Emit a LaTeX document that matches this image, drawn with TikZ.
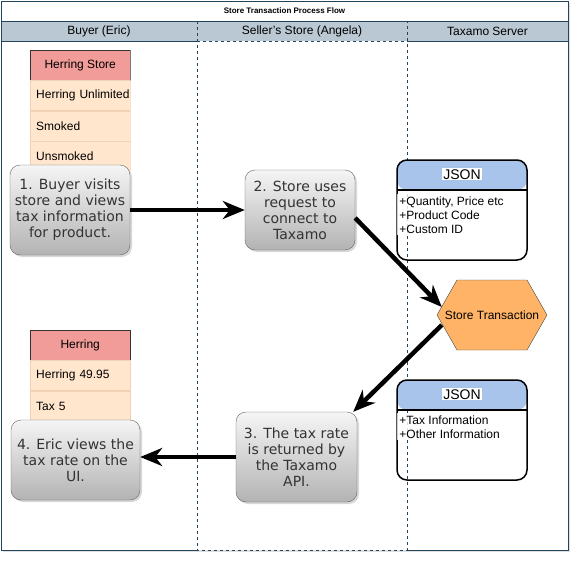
\documentclass[tikz,border=0pt]{standalone}
\usepackage{fontspec}
\setmainfont{Liberation Sans}
\newfontfamily\stepfont{DejaVu Sans}
\usepackage{tikz}
\usetikzlibrary{arrows.meta,shadows,positioning}
\definecolor{laneColor}{HTML}{BAC8D3}
\definecolor{laneLine}{HTML}{23445D}
\definecolor{headColor}{HTML}{F19C99}
\definecolor{rowColor}{HTML}{FFE6CC}
\definecolor{rowLine}{HTML}{F2D2B4}
\definecolor{jsonColor}{HTML}{A9C4EB}
\definecolor{hexColor}{HTML}{FFB366}
\definecolor{stepTop}{HTML}{F5F5F5}
\definecolor{stepBottom}{HTML}{B3B3B3}
\definecolor{stepLine}{HTML}{666666}
\definecolor{stepText}{HTML}{333333}

\tikzset{
	lanehead/.style={font=\fontsize{12}{14}\selectfont},
	tabhead/.style={draw=black!80, fill=headColor, minimum width=100pt, minimum height=30pt, inner sep=0pt, font=\fontsize{12}{14}\selectfont},
	tabrow/.style={draw=rowLine, fill=rowColor, minimum height=30pt, text width=88pt, inner xsep=6pt, inner ysep=0pt, align=left, font=\fontsize{12}{14}\selectfont},
	stepbox/.style={draw=stepLine, rounded corners=10pt, top color=stepTop, bottom color=stepBottom, text=stepText, align=center, inner xsep=2pt,
		font=\stepfont\fontsize{14}{16}\selectfont, drop shadow={shadow xshift=2pt, shadow yshift=-2pt, opacity=.3}},
	jsonbox/.style={draw=black, line width=1.5pt, rounded corners=10pt, minimum width=130pt, minimum height=100pt,
		path picture={
			\fill[jsonColor] (path picture bounding box.north west) rectangle ([yshift=-30pt]path picture bounding box.north east);
			\draw[line width=1.5pt] ([yshift=-30pt]path picture bounding box.north west) -- ([yshift=-30pt]path picture bounding box.north east);
		}},
	jsontitle/.style={fill=white, inner sep=1pt, font=\fontsize{14}{16}\selectfont},
	jsonlist/.style={anchor=north west, fill=white, fill opacity=.8, text opacity=1, align=left, inner sep=2pt, font=\fontsize{12}{14}\selectfont},
	hexbox/.style={minimum width=110pt, minimum height=70pt, inner sep=0pt, font=\fontsize{12}{14}\selectfont},
	flow/.style={line width=4.5pt, -{Stealth[length=22pt, width=18pt, inset=7pt]}},
}

\begin{document}
\begin{tikzpicture}[x=1pt, y=-1pt]
	\useasboundingbox (0,0) rectangle (579,562);

	% pool and lanes
	\fill[white, drop shadow={shadow xshift=2pt, shadow yshift=-2pt, opacity=.25}] (1,1) rectangle (568,550);
	\fill[laneColor] (1,21) rectangle (568,41);
	\draw[laneLine] (1,1) rectangle (568,21);
	\draw[laneLine] (197,550) -- (1,550) -- (1,21) -- (197,21);
	\draw[laneLine] (407,21) -- (568,21) -- (568,550) -- (407,550);
	\draw[laneLine] (1,41) -- (197,41) (407,41) -- (568,41);
	\draw[laneLine, dash pattern=on 3pt off 3pt] (197,21) rectangle (407,550);
	\draw[laneLine, dash pattern=on 3pt off 3pt] (197,41) -- (407,41);

	\node[font=\bfseries\fontsize{8}{10}\selectfont] (title) at (284.5,11) {Store Transaction Process Flow};
	\node[lanehead] (buyer) at (99,31) {Buyer (Eric)};
	\node[lanehead] (seller) at (302,31) {Seller's Store (Angela)};
	\node[lanehead] (server) at (487.5,31) {Taxamo Server};

	% tables
	\begin{scope}
		\clip (29.5,49.5) rectangle (130.5,170.5);
		\node[tabhead, anchor=north west] (store) at (30,50) {Herring Store};
		\node[tabrow, below=0pt of store] (storeA) {\mbox{Herring Unlimited}};
		\node[tabrow, below=0pt of storeA] (storeB) {Smoked};
		\node[tabrow, below=0pt of storeB] (storeC) {Unsmoked};
	\end{scope}
	\node[tabhead, anchor=north west] (item) at (30,330) {Herring};
	\node[tabrow, below=0pt of item] (itemA) {Herring 49.95};
	\node[tabrow, below=0pt of itemA] (itemB) {Tax 5};

	% steps
	\node[stepbox, minimum width=120pt, minimum height=90pt] (visit) at (70,210) {1. Buyer visits\\store and views\\tax information\\for product.};
	\node[stepbox, minimum width=110pt, minimum height=80pt] (request) at (300,210) {2. Store uses\\request to\\connect to\\Taxamo};
	\node[stepbox, minimum width=121pt, minimum height=90pt] (answer) at (296.5,457) {3. The tax rate\\is returned by\\the Taxamo\\API.};
	\node[stepbox, minimum width=129pt, minimum height=80pt] (view) at (75.5,460) {4. Eric views the\\tax rate on the\\UI.};

	% server side
	\node[jsonbox] (jsonA) at (462,210) {};
	\node[jsontitle] (jsonAhead) at ([yshift=-15pt]jsonA.north) {JSON};
	\node[jsonlist] (jsonAlist) at ([xshift=1pt, yshift=-35pt]jsonA.north west) {+Quantity, Price etc\\+Product Code\\+Custom ID};

	\node[jsonbox] (jsonB) at (462,430) {};
	\node[jsontitle] (jsonBhead) at ([yshift=-15pt]jsonB.north) {JSON};
	\node[jsonlist] (jsonBlist) at ([xshift=1pt, yshift=-34pt]jsonB.north west) {+Tax Information\\+Other Information};

	\filldraw[fill=hexColor, draw=black!70] (437,315) -- ++(20,-35) -- ++(70,0) -- ++(20,35) -- ++(-20,35) -- ++(-70,0) -- cycle;
	\node[hexbox] (hex) at (492,315) {Store Transaction};

	% flow
	\draw[flow] (visit.east) -- (request.west);
	\draw[flow] ([yshift=-8pt]request.east) -- ([xshift=5pt, yshift=8pt]hex.west);
	\draw[flow] ([xshift=5pt, yshift=-10pt]hex.west) -- ([xshift=-4pt]answer.north east);
	\draw[flow] (answer.west) -- (view.east |- answer.west);
\end{tikzpicture}
\end{document}
